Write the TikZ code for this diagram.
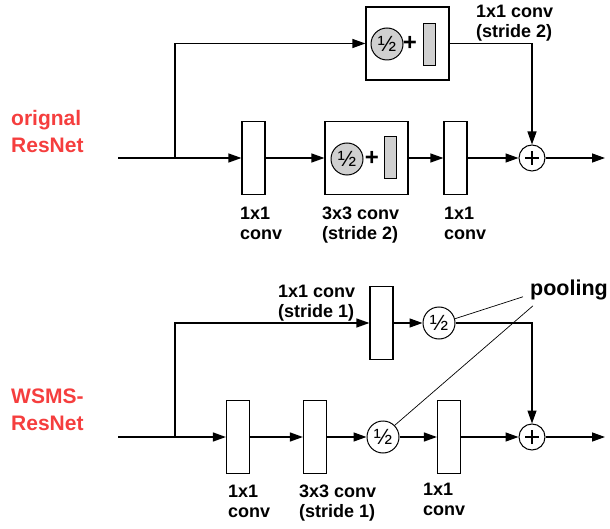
\documentclass[tikz,border=0pt]{standalone}
\usepackage{fontspec}
\setmainfont{Liberation Sans}
\usetikzlibrary{arrows.meta,positioning}
\definecolor{labelred}{RGB}{245,62,62}
\definecolor{poolgray}{RGB}{208,208,208}
\begin{document}
\begin{tikzpicture}[
    x=1pt,
    y=-1pt,
    convbox/.style={
        draw, line width=1.2pt, fill=white,
        minimum width=23pt, minimum height=73pt, inner sep=0pt
    },
    groupbox/.style={
        draw, line width=1.2pt,
        minimum width=83pt, minimum height=73pt, inner sep=0pt
    },
    halfc/.style={
        draw, circle, line width=1pt, fill=white,
        minimum size=32pt, inner sep=0pt,
        font=\fontsize{22}{22}\selectfont
    },
    halfgray/.style={
        halfc, fill=poolgray
    },
    graybar/.style={
        draw, line width=1pt, fill=poolgray,
        minimum width=12pt, minimum height=42pt, inner sep=0pt
    },
    plussign/.style={
        inner sep=0pt, font=\fontsize{24}{24}\selectfont\bfseries
    },
    addc/.style={
        draw, circle, line width=1pt, fill=white,
        minimum size=26pt, inner sep=0pt,
        path picture={
            \draw[line width=1.5pt]
                ([xshift=-7pt]path picture bounding box.center) --
                ([xshift=7pt]path picture bounding box.center)
                ([yshift=-7pt]path picture bounding box.center) --
                ([yshift=7pt]path picture bounding box.center);
        }
    },
    flow/.style={
        line width=1.3pt,
        -{Triangle[length=13pt,width=9pt]}
    },
    link/.style={
        line width=1.3pt
    },
    pointer/.style={
        line width=0.7pt
    },
    lbl/.style={
        font=\fontsize{18}{20}\selectfont\bfseries,
        align=left, inner sep=0pt, anchor=north west
    },
    title/.style={
        font=\fontsize{21}{27}\selectfont\bfseries,
        text=labelred, align=left, inner sep=0pt, anchor=north west
    }
]

\useasboundingbox (0,0) rectangle (610,529);

% ---------------------------------------------
% original ResNet
% ---------------------------------------------

\node[title] (titleA) at (11,110) {orignal\\ResNet};

\coordinate (inA)    at (118,158);
\coordinate (splitA) at (175,158);
\coordinate (outA)   at (605,158);

\node[convbox]  (convA1) at (253.5,158) {};
\node[groupbox] (convA2) at (366.5,158) {};
\node[halfgray] (poolA2) at (347,159) {½};
\node[plussign] (plusA2) at (372,158) {+};
\node[graybar]  (barA2)  at (390,158) {};
\node[convbox]  (convA3) at (455.5,158) {};
\node[addc]     (addA)   at (532,158) {};

% shortcut
\node[groupbox] (convA4) at (407.5,43.5) {};
\node[halfgray] (poolA4) at (387,44) {½};
\node[plussign] (plusA4) at (410,43) {+};
\node[graybar]  (barA4)  at (429.5,45) {};

\draw[link] (inA) -- (splitA);
\draw[flow] (splitA) -- (convA1);
\draw[flow] (convA1) -- (convA2);
\draw[flow] (convA2) -- (convA3);
\draw[flow] (convA3) -- (addA);
\draw[flow] (addA) -- (outA);
\draw[flow] (splitA) |- (convA4);
\draw[flow] (convA4) -| (addA);

\node[lbl] at (476,5)   {1x1 conv\\(stride 2)};
\node[lbl] at (240,207) {1x1\\conv};
\node[lbl] at (322,207) {3x3 conv\\(stride 2)};
\node[lbl] at (444,207) {1x1\\conv};

% ---------------------------------------------
% WSMS-ResNet
% ---------------------------------------------

\node[title] (titleB) at (11,389) {WSMS-\\ResNet};

\coordinate (inB)    at (118,437);
\coordinate (splitB) at (175,437);
\coordinate (outB)   at (605,437);

\node[convbox] (convB1) at (238,437) {};
\node[convbox] (convB2) at (315,437) {};
\node[halfc]   (poolB2) at (383,437) {½};
\node[convbox] (convB3) at (449,437) {};
\node[addc]    (addB)   at (532,437) {};

% shortcut
\node[convbox] (convB4) at (381.5,323) {};
\node[halfc]   (poolB4) at (439,323) {½};

\draw[link] (inB) -- (splitB);
\draw[flow] (splitB) -- (convB1);
\draw[flow] (convB1) -- (convB2);
\draw[flow] (convB2) -- (poolB2);
\draw[flow] (poolB2) -- (convB3);
\draw[flow] (convB3) -- (addB);
\draw[flow] (addB) -- (outB);
\draw[flow] (splitB) |- (convB4);
\draw[flow] (convB4) -- (poolB4);
\draw[flow] (poolB4) -| (addB);

\node[lbl] (poolnote) at (530,280) {\fontsize{21.5}{24}\selectfont pooling};
\draw[pointer] (poolB4.15) -- ([xshift=-7pt,yshift=-1pt]poolnote.base west);
\draw[pointer] (poolB2.45) -- ([xshift=3pt,yshift=-10pt]poolnote.base west);

\node[lbl] at (278,285) {1x1 conv\\(stride 1)};
\node[lbl] at (228,485) {1x1\\conv};
\node[lbl] at (299,485) {3x3 conv\\(stride 1)};
\node[lbl] at (423,483) {1x1\\conv};

\end{tikzpicture}
\end{document}
